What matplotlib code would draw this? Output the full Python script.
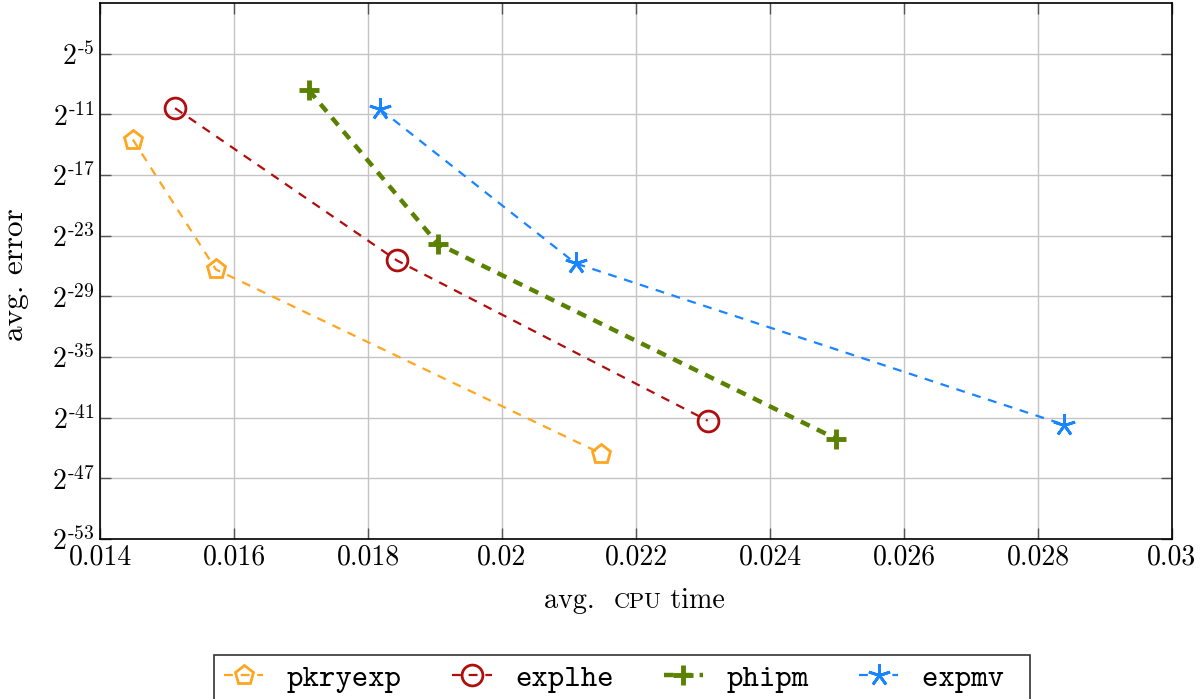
import numpy as np
import matplotlib
matplotlib.use("Agg")
import matplotlib.pyplot as plt
from matplotlib.offsetbox import TextArea, HPacker, AnchoredOffsetbox

plt.rcParams['font.family'] = 'cmr10'
plt.rcParams['mathtext.fontset'] = 'cm'
plt.rcParams['axes.unicode_minus'] = False

# avg. CPU time and log2 of avg. error for each method
pkryexp_time = [0.01449, 0.01573, 0.02148]
pkryexp_err = [-13.5, -26.35, -44.55]
explhe_time = [0.01512, 0.01843, 0.02307]
explhe_err = [-10.4, -25.45, -41.3]
phipm_time = [0.01712, 0.01904, 0.02499]
phipm_err = [-8.65, -23.8, -43.1]
expmv_time = [0.01818, 0.02110, 0.02839]
expmv_err = [-10.5, -25.75, -41.7]

x_ticks = [0.014, 0.016, 0.018, 0.02, 0.022, 0.024, 0.026, 0.028, 0.03]
x_labels = ['0.014', '0.016', '0.018', '0.02', '0.022', '0.024', '0.026', '0.028', '0.03']
y_exps = [-53, -47, -41, -35, -29, -23, -17, -11, -5]

fig = plt.figure(figsize=(12.03, 6.99), dpi=100)
ax = fig.add_axes([100 / 1203, 160 / 699, 1072 / 1203, 536 / 699])

series = [
    ('pkryexp', pkryexp_time, pkryexp_err, '#ffa51f', 'p', 14, 1.6, (4, 3.5)),
    ('explhe', explhe_time, explhe_err, '#b00d0d', 'o', 15, 1.6, (4, 3.5)),
    ('phipm', phipm_time, phipm_err, '#5a8200', 'P', 14, 3.2, (2.2, 1.8)),
    ('expmv', expmv_time, expmv_err, '#1a85ff', (5, 2, 0), 16, 1.6, (4, 3.5)),
]
for name, t, e, col, mk, ms, lw, dash in series:
    if mk == 'P':
        ax.plot(t, np.exp2(e), color=col, lw=lw, dashes=dash, label=name,
                marker='+', markersize=ms, markeredgewidth=3.5)
    else:
        ax.plot(t, np.exp2(e), color=col, lw=lw, dashes=dash, label=name,
                marker=mk, markersize=ms, markerfacecolor='none',
                markeredgewidth=2)

ax.set_yscale('log', base=2)
ax.set_xlim(0.014, 0.03)
ax.set_ylim(2.0 ** -53, 2.0 ** 0)
ax.set_xticks(x_ticks)
ax.set_xticklabels(x_labels)
ax.set_yticks([2.0 ** k for k in y_exps])
ax.set_yticklabels([r'$2^{\mathrm{\text{-}%d}}$' % -k for k in y_exps])
ax.minorticks_off()
ax.tick_params(direction='in', length=8, width=1, color='#555555',
               top=True, right=True, labelsize=20, pad=4)
ax.grid(True, color='#c4c4c4', lw=1)
ax.set_axisbelow(True)
for s in ax.spines.values():
    s.set_linewidth(1.2)

ax.set_ylabel('avg. error', fontsize=22.5)
ax.yaxis.set_label_coords(-0.066, 0.494)

# x label with CPU in small caps
parts = [TextArea('avg.  ', textprops=dict(fontsize=20.2, family='cmr10')),
         TextArea('CPU', textprops=dict(fontsize=16, family='cmr10')),
         TextArea(' time', textprops=dict(fontsize=20.2, family='cmr10'))]
box = HPacker(children=parts, align='baseline', pad=0, sep=0)
ab = AnchoredOffsetbox(loc='upper center', child=box, frameon=False,
                       bbox_to_anchor=(0.4985, -0.08), bbox_transform=ax.transAxes,
                       borderpad=0)
ax.add_artist(ab)

handles, labels = ax.get_legend_handles_labels()
labels[-1] = labels[-1] + ' '
leg = fig.legend(handles, labels, loc='upper center',
                 bbox_to_anchor=(622 / 1203, 1 - 655 / 699),
                 ncol=4, frameon=True, fancybox=False, edgecolor='black',
                 prop=dict(family='cmtt10', size=22.5), handlelength=1.27,
                 columnspacing=1.6, handletextpad=0.75, borderpad=0.3,
                 borderaxespad=0)
leg.get_frame().set_linewidth(1.2)

fig.savefig('out.png', dpi=100)
